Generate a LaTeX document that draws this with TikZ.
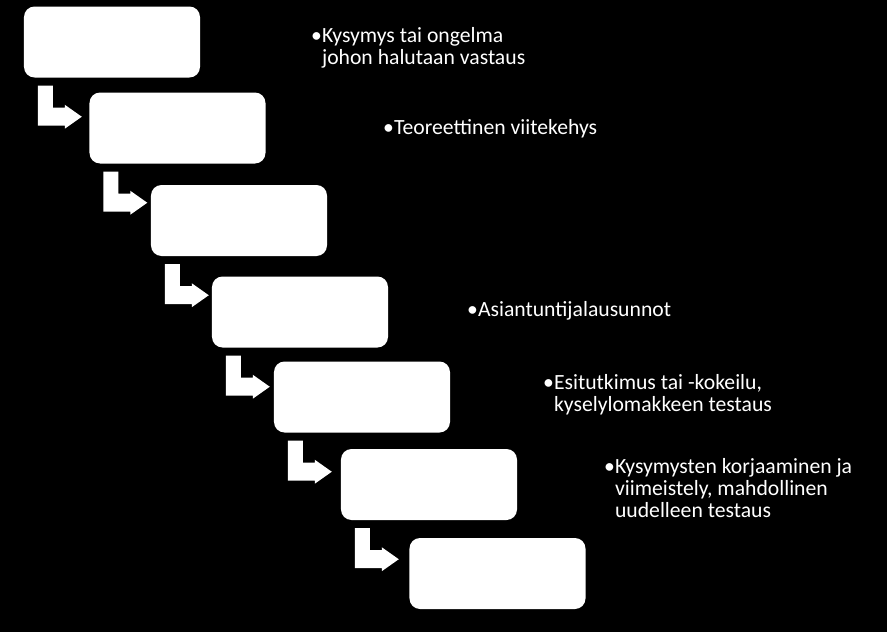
\documentclass[tikz,border=0pt]{standalone}
\usepackage{fontspec}
\setmainfont{Carlito}
\usetikzlibrary{calc}

\tikzset{
  stepbox/.style={fill=white, rounded corners=9pt, minimum width=5.28cm, minimum height=2.13cm, inner sep=0pt},
  note/.style={text=white, anchor=north west, align=left, inner sep=0pt, font=\fontsize{18.5}{18.7}\selectfont}
}

% bent arrow from below box #1 to the left of box #2
\newcommand{\bendarrow}[1]{%
  \fill[white] ($(#1.south west)+(14,8)$) -- ++(15,0) -- ++(0,22) -- ++(12,0) -- ++(0,-3)
    -- ++(17,12) -- ++(-17,12) -- ++(0,-3) -- ++(-27,0) -- cycle;}

\begin{document}
\begin{tikzpicture}[x=0.03cm, y=-0.03cm]
    \fill[black] (0,0) rectangle (887,632);
    
    %boxes
    \node[stepbox] (s1) at (112,42) {};
    \node[stepbox] (s2) at (177.5,128) {};
    \node[stepbox] (s3) at (239,220.5) {};
    \node[stepbox] (s4) at (300,312) {};
    \node[stepbox] (s5) at (362,397) {};
    \node[stepbox] (s6) at (429,484.5) {};
    \node[stepbox] (s7) at (497.5,573.5) {};
    
    %arrows
    \foreach \b in {s1,s2,s3,s4,s5,s6} {\bendarrow{\b}}
    
    %texts
    \node[note] (t1) at (311,27) {•Kysymys tai ongelma\\\hspace{0.5em}johon halutaan vastaus};
    \node[note] (t2) at (383,119) {•Teoreettinen viitekehys};
    \node[note] (t4) at (467,301) {•Asiantuntijalausunnot};
    \node[note] (t5) at (543,374) {•Esitutkimus tai -kokeilu,\\\hspace{0.5em}kyselylomakkeen testaus};
    \node[note] (t6) at (604,458) {•Kysymysten korjaaminen ja\\\hspace{0.5em}viimeistely, mahdollinen\\\hspace{0.5em}uudelleen testaus};
\end{tikzpicture}
\end{document}
